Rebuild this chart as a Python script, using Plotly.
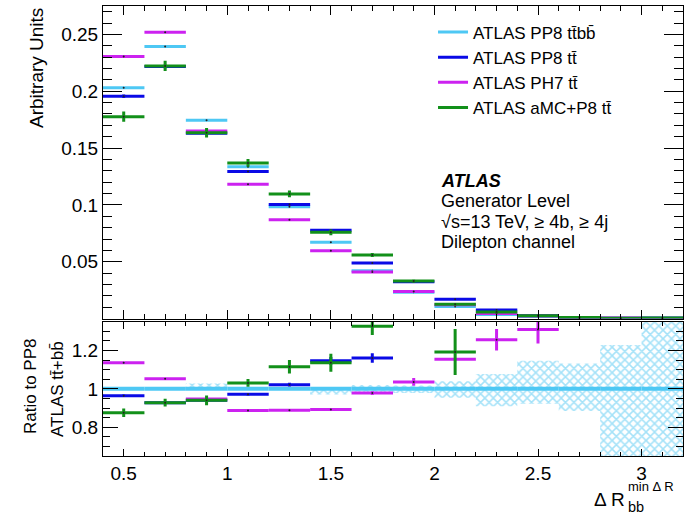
import plotly.graph_objects as go

# ---------------- data ----------------
bin_edges = [0.4, 0.6, 0.8, 1.0, 1.2, 1.4, 1.6, 1.8, 2.0, 2.2, 2.4, 2.6, 2.8, 3.0, 3.2]

series_names = ["ATLAS PP8 tt̄bb̄", "ATLAS PP8 tt̄", "ATLAS PH7 tt̄", "ATLAS aMC+P8 tt̄"]
series_colors = ["#4ec8f4", "#0a0ae6", "#cc22f0", "#12901a"]

# normalised distributions (top panel)
pp8_ttbb = [0.203, 0.2394, 0.1744, 0.1335, 0.0985, 0.0671, 0.042, 0.0231, 0.0106, 0.0036, 0.0018, 0.0006, 0.0003, 0.0002]
pp8_tt = [0.1956, 0.2218, 0.1630, 0.1294, 0.1003, 0.0777, 0.0489, 0.0325, 0.0170, 0.0075, 0.0027, 0.0010, 0.0004, 0.0005]
ph7_tt = [0.2306, 0.2520, 0.1650, 0.1183, 0.0870, 0.0597, 0.0411, 0.0239, 0.0121, 0.0045, 0.0024, 0.0004, 0.0006, 0.0002]
amc_tt = [0.1776, 0.2223, 0.1635, 0.1370, 0.1097, 0.0759, 0.0559, 0.0330, 0.0127, 0.0059, 0.0026, 0.0010, 0.0003, 0.0006]

pp8_ttbb_err = [0.0006, 0.0006, 0.0005, 0.0005, 0.0004, 0.0004, 0.0003, 0.0003, 0.0002, 0.0001, 0.0001, 0.0001, 0.0001, 0.0001]
pp8_tt_err = [0.0015, 0.0015, 0.0012, 0.0011, 0.0010, 0.0009, 0.0008, 0.0006, 0.0004, 0.0003, 0.0002, 0.0001, 0.0001, 0.0001]
ph7_tt_err = [0.0008, 0.0008, 0.0007, 0.0006, 0.0005, 0.0005, 0.0004, 0.0004, 0.0003, 0.0002, 0.0001, 0.0001, 0.0001, 0.0001]
amc_tt_err = [0.0045, 0.0045, 0.0042, 0.0035, 0.0030, 0.0026, 0.0018, 0.0012, 0.0010, 0.0006, 0.0004, 0.0002, 0.0001, 0.0002]

# ratio to PP8 tt+bb (bottom panel); None = outside the shown range
ratio_pp8_ttbb = [1.0] * 14
ratio_pp8_tt = [0.964, 0.928, 0.940, 0.972, 1.022, 1.146, 1.161, None, None, None, None, None, None, None]
ratio_ph7_tt = [1.136, 1.053, 0.947, 0.887, 0.888, 0.893, 0.978, 1.036, 1.155, 1.256, 1.309, None, None, None]
ratio_amc_tt = [0.875, 0.928, 0.940, 1.031, 1.115, 1.136, 1.326, None, 1.192, None, None, None, None, None]

ratio_pp8_tt_err = [0.007, 0.007, 0.009, 0.007, 0.010, 0.020, 0.025, 0, 0, 0, 0, 0, 0, 0]
ratio_ph7_tt_err = [0.004, 0.004, 0.008, 0.004, 0.004, 0.005, 0.010, 0.020, 0.005, 0.056, 0.073, 0, 0, 0]
ratio_amc_tt_err = [0.022, 0.020, 0.025, 0.020, 0.035, 0.047, 0.045, 0, 0.120, 0, 0, 0, 0, 0]

# uncertainty band of the reference (relative, up / down)
band_up = [0.004, 0.004, 0.028, 0.004, 0.004, 0.004, 0.020, 0.017, 0.040, 0.077, 0.146, 0.132, 0.228, 0.60]
band_down = [0.004, 0.004, 0.004, 0.004, 0.004, 0.030, 0.020, 0.022, 0.046, 0.091, 0.077, 0.115, 0.60, 0.60]

x_ticks = [0.5, 1, 1.5, 2, 2.5, 3]
x_tick_labels = ["0.5", "1", "1.5", "2", "2.5", "3"]
y_ticks_top = [0.05, 0.1, 0.15, 0.2, 0.25]
y_tick_labels_top = ["0.05", "0.1", "0.15", "0.2", "0.25"]
y_ticks_ratio = [0.8, 1.0, 1.2]
y_tick_labels_ratio = ["0.8", "1", "1.2"]

# ---------------- figure ----------------
centers = [(a + b) / 2 for a, b in zip(bin_edges[:-1], bin_edges[1:])]
half_w = [(b - a) / 2 for a, b in zip(bin_edges[:-1], bin_edges[1:])]
widths = [b - a for a, b in zip(bin_edges[:-1], bin_edges[1:])]

FONT = "Liberation Sans, Arial, Helvetica, sans-serif"
fig = go.Figure()

# hatched uncertainty band in ratio panel
fig.add_trace(go.Bar(
    x=centers, y=[u + d for u, d in zip(band_up, band_down)],
    base=[1 - d for d in band_down], width=widths,
    marker=dict(color="rgba(0,0,0,0)", line=dict(width=0),
                pattern=dict(shape="x", fgcolor="#4cc6f2", bgcolor="rgba(0,0,0,0)",
                             size=6, solidity=0.45, fillmode="overlay")),
    xaxis="x2", yaxis="y2", showlegend=False, hoverinfo="skip"))

top_vals = [pp8_ttbb, pp8_tt, ph7_tt, amc_tt]
top_errs = [pp8_ttbb_err, pp8_tt_err, ph7_tt_err, amc_tt_err]
ratio_vals = [ratio_pp8_ttbb, ratio_pp8_tt, ratio_ph7_tt, ratio_amc_tt]
ratio_errs = [[0.0] * 14, ratio_pp8_tt_err, ratio_ph7_tt_err, ratio_amc_tt_err]

for vals, errs, col in zip(top_vals, top_errs, series_colors):
    fig.add_trace(go.Scatter(
        x=centers, y=vals, mode="markers",
        marker=dict(size=2, color="#222222"),
        error_x=dict(type="data", array=half_w, width=0, thickness=3, color=col),
        error_y=dict(type="data", array=errs, width=0, thickness=3, color=col),
        xaxis="x", yaxis="y", showlegend=False, hoverinfo="skip"))

for i, (vals, errs, col) in enumerate(zip(ratio_vals, ratio_errs, series_colors)):
    fig.add_trace(go.Scatter(
        x=centers, y=vals, mode="markers",
        marker=dict(size=2 if i > 0 else 0.1, color="#222222"),
        error_x=dict(type="data", array=half_w, width=0, thickness=4 if i == 0 else 3, color=col),
        error_y=dict(type="data", array=errs, width=0, thickness=3, color=col),
        xaxis="x2", yaxis="y2", showlegend=False, hoverinfo="skip", cliponaxis=True))

# legend entries
for name, col in zip(series_names, series_colors):
    fig.add_trace(go.Scatter(x=[None], y=[None], mode="lines", name=name,
                             line=dict(color=col, width=3), xaxis="x", yaxis="y"))

axis_common = dict(showline=True, linecolor="black", linewidth=1, mirror="ticks",
                   ticks="inside", tickcolor="black", tickwidth=1, showgrid=False,
                   zeroline=False, tickfont=dict(family=FONT, size=19, color="black"))

top_dom = [0.3053, 1.0]
bot_dom = [0.0, 0.2984]

fig.update_layout(
    width=693, height=518,
    margin=dict(l=103, r=10, t=6, b=62),
    paper_bgcolor="white", plot_bgcolor="white",
    font=dict(family=FONT, color="black"),
    barmode="overlay",
    hovermode=False,
    xaxis=dict(**axis_common, domain=[0, 1], anchor="y", range=[0.4, 3.2],
               tickmode="array", tickvals=x_ticks, showticklabels=False, ticklen=9,
               minor=dict(tickmode="linear", tick0=0, dtick=0.1, ticklen=4.5, ticks="inside",
                          tickcolor="black")),
    yaxis=dict(**axis_common, domain=top_dom, anchor="x", range=[0, 0.275],
               tickmode="array", tickvals=y_ticks_top, ticktext=y_tick_labels_top, ticklen=19,
               minor=dict(tickmode="linear", tick0=0, dtick=0.01, ticklen=9, ticks="inside",
                          tickcolor="black")),
    xaxis2=dict(**axis_common, domain=[0, 1], anchor="y2", range=[0.4, 3.2],
                tickmode="array", tickvals=x_ticks, ticktext=x_tick_labels, ticklen=7,
                minor=dict(tickmode="linear", tick0=0, dtick=0.1, ticklen=4, ticks="inside",
                           tickcolor="black")),
    yaxis2=dict(**axis_common, domain=bot_dom, anchor="x2", range=[0.65, 1.35],
                tickmode="array", tickvals=y_ticks_ratio, ticktext=y_tick_labels_ratio, ticklen=15,
                minor=dict(tickmode="linear", tick0=0, dtick=0.05, ticklen=7, ticks="inside",
                           tickcolor="black")),
    legend=dict(x=0.569, y=0.981, xanchor="left", yanchor="top",
                bgcolor="rgba(0,0,0,0)", borderwidth=0,
                font=dict(family=FONT, size=17, color="black"),
                itemwidth=30, tracegroupgap=0),
)

def px_x(p):
    return (p - 103) / 580.0

def px_y(p):
    return (456 - p) / 450.0

ann = []
# ATLAS label block
ann.append(dict(text="<b><i>ATLAS</i></b>", x=px_x(439), y=px_y(181), size=18))
ann.append(dict(text="Generator Level", x=px_x(439), y=px_y(201.5), size=18))
ann.append(dict(text="√s=13 TeV, ≥ 4b, ≥ 4j", x=px_x(439), y=px_y(222), size=18))
ann.append(dict(text="Dilepton channel", x=px_x(439), y=px_y(242), size=18))
for a in ann:
    fig.add_annotation(text=a["text"], x=a["x"], y=a["y"], xref="paper", yref="paper",
                       xanchor="left", yanchor="middle", showarrow=False,
                       font=dict(family=FONT, size=a["size"], color="black"))

# axis titles
fig.add_annotation(text="Arbitrary Units", x=px_x(36), y=1.0, xref="paper", yref="paper",
                   xanchor="center", yanchor="top", textangle=-90, showarrow=False,
                   font=dict(family=FONT, size=19, color="black"))
fig.add_annotation(text="Ratio to PP8", x=px_x(30), y=px_y(387), xref="paper", yref="paper",
                   xanchor="center", yanchor="middle", textangle=-90, showarrow=False,
                   font=dict(family=FONT, size=17, color="black"))
fig.add_annotation(text="ATLAS tt̄+bb̄", x=px_x(57), y=px_y(389), xref="paper", yref="paper",
                   xanchor="center", yanchor="middle", textangle=-90, showarrow=False,
                   font=dict(family=FONT, size=17, color="black"))
fig.add_annotation(text="Δ R", x=px_x(627), y=px_y(499), xref="paper", yref="paper",
                   xanchor="right", yanchor="middle", showarrow=False,
                   font=dict(family=FONT, size=19, color="black"))
fig.add_annotation(text="min Δ R", x=px_x(627), y=px_y(486.5), xref="paper", yref="paper",
                   xanchor="left", yanchor="middle", showarrow=False, borderpad=0,
                   font=dict(family=FONT, size=13, color="black"))
fig.add_annotation(text="bb", x=px_x(627), y=px_y(507.5), xref="paper", yref="paper",
                   xanchor="left", yanchor="middle", showarrow=False, borderpad=0,
                   font=dict(family=FONT, size=14.5, color="black"))

fig.write_html("out.html", config={"displayModeBar": False, "staticPlot": True},
               post_script="document.body.style.margin='0px';document.body.style.overflow='hidden';")
